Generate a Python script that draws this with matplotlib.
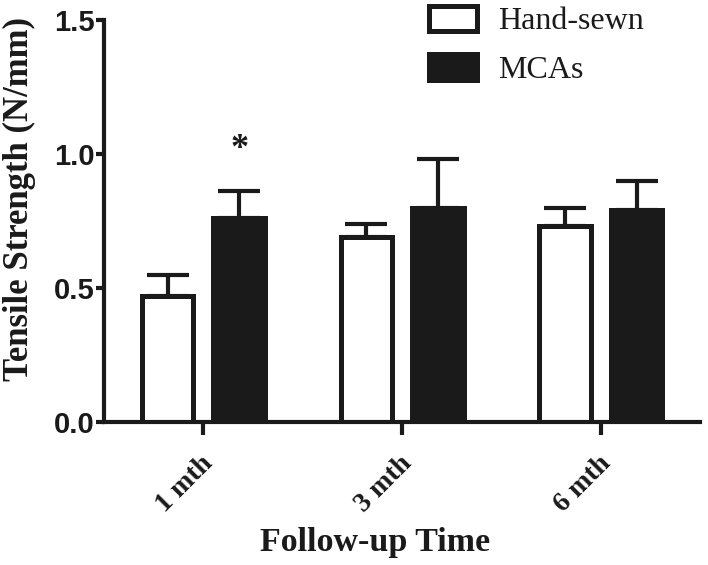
import numpy as np
import matplotlib.pyplot as plt
from matplotlib.transforms import offset_copy

# data
groups = ['1 mth', '3 mth', '6 mth']
hand_sewn = [0.47, 0.69, 0.73]
hand_sewn_err = [0.08, 0.05, 0.07]
mcas = [0.76, 0.80, 0.79]
mcas_err = [0.10, 0.18, 0.11]

serif = 'Liberation Serif'
sans = 'Liberation Sans'
ink = '#1a1a1a'

fig = plt.figure(figsize=(7.08, 5.65), dpi=100)
ax = fig.add_axes([0.147, 0.253, 0.842, 0.712])

x = np.arange(len(groups))
w = 0.26
off = 0.18

ax.bar(x - off, hand_sewn, w, color='white', edgecolor=ink, linewidth=3.6,
       label='Hand-sewn', zorder=2)
ax.bar(x + off, mcas, w, color=ink, edgecolor=ink, linewidth=3.6,
       label='MCAs', zorder=2)

# upper-only error bars
ax.errorbar(x - off, hand_sewn, yerr=[np.zeros(3), hand_sewn_err], fmt='none',
            ecolor=ink, elinewidth=3, capsize=15, capthick=3, zorder=1)
ax.errorbar(x + off, mcas, yerr=[np.zeros(3), mcas_err], fmt='none',
            ecolor=ink, elinewidth=3, capsize=15, capthick=3, zorder=1)

# significance marker
ax.text(x[0] + off, mcas[0] + mcas_err[0] + 0.155, '*', ha='center', va='center',
        fontsize=26, fontfamily=serif, fontweight='bold', color=ink)

ax.set_xlim(-0.5, 2.5)
ax.set_ylim(0, 1.5)
ax.set_yticks([0.0, 0.5, 1.0, 1.5])
ax.set_yticklabels(['0.0', '0.5', '1.0', '1.5'], fontfamily=sans,
                   fontweight='bold', fontsize=21, color=ink)

# rotated group labels, drawn as text so they can sit a bit right of the tick
ax.set_xticks(x)
ax.set_xticklabels([])
lab_tr = offset_copy(ax.get_xaxis_transform(), fig=fig, x=6, y=-38, units='dots')
for xi, g in zip(x, groups):
    ax.text(xi, 0, g, transform=lab_tr, rotation=45, ha='right', va='center',
            rotation_mode='anchor', fontfamily=serif, fontweight='bold',
            fontsize=20, color=ink, clip_on=False)

for side in ['top', 'right']:
    ax.spines[side].set_visible(False)
for side in ['left', 'bottom']:
    ax.spines[side].set_linewidth(3)
    ax.spines[side].set_color(ink)
ax.tick_params(axis='y', length=6, width=3, color=ink, pad=1)
ax.tick_params(axis='x', length=9, width=3, color=ink)

ax.set_ylabel('Tensile Strength (N/mm)', fontfamily=serif, fontweight='bold',
              fontsize=25, color=ink)
ax.yaxis.set_label_coords(-0.115, 0.555)
ax.set_xlabel('Follow-up Time', fontfamily=serif, fontweight='bold',
              fontsize=24.5, color=ink)
ax.xaxis.set_label_coords(0.455, -0.262)

leg = ax.legend(loc='upper left', bbox_to_anchor=(0.545, 1.035), frameon=False,
                prop={'family': serif, 'size': 23}, handlelength=1.5,
                handleheight=0.85, labelspacing=0.55, handletextpad=0.65,
                borderpad=0, borderaxespad=0)
for t in leg.get_texts():
    t.set_color(ink)

fig.savefig('out.png', dpi=100)
